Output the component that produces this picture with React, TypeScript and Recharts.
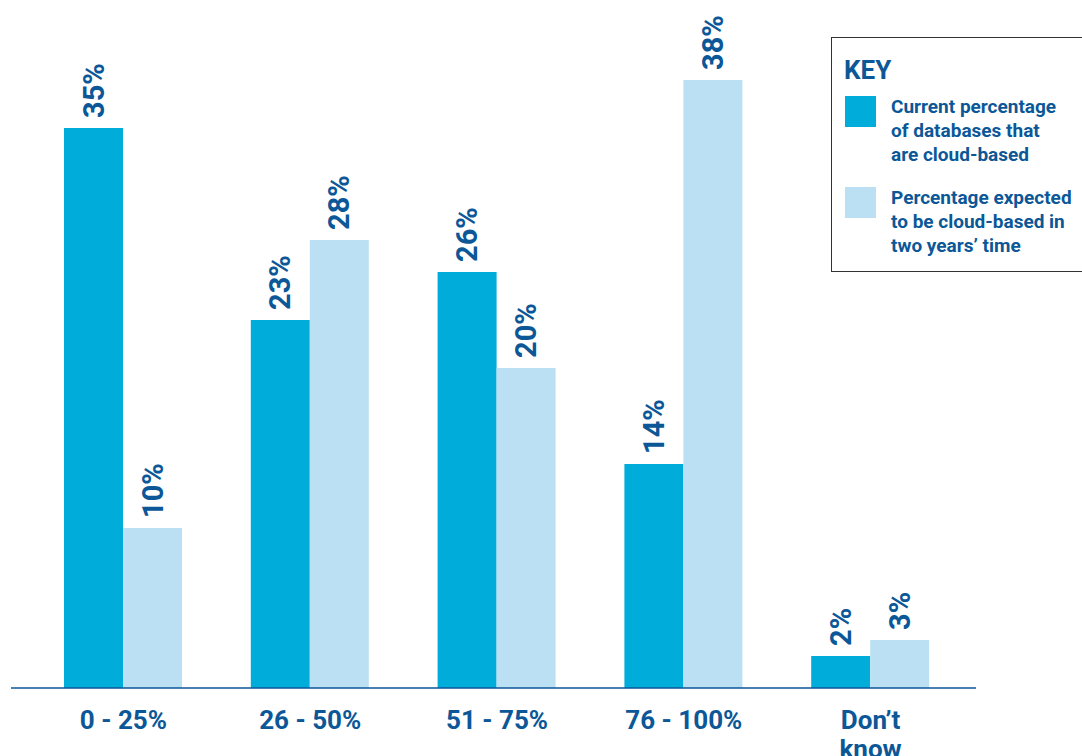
import React from "react";
import { BarChart, Bar, XAxis, YAxis, LabelList } from "recharts";

const categories = ["0 - 25%", "26 - 50%", "51 - 75%", "76 - 100%", "Don\u2019t know"];
const currentValues = [35, 23, 26, 14, 2];
const expectedValues = [10, 28, 20, 38, 3];
const seriesNames = [
  "Current percentage of databases that are cloud-based",
  "Percentage expected to be cloud-based in two years\u2019 time",
];
const legendLines = [
  ["Current percentage", "of databases that", "are cloud-based"],
  ["Percentage expected", "to be cloud-based in", "two years\u2019 time"],
];

const data = categories.map((c, i) => ({
  category: c,
  current: currentValues[i],
  expected: expectedValues[i],
}));

const TEXT = "#0b5797";
const DARK = "#00acd9";
const LIGHT = "#bbe0f3";
const FONT = "Roboto, 'DejaVu Sans', sans-serif";

const ValueLabel = (props: any) => {
  const { x, y, width, value } = props;
  const cx = x + width / 2;
  const cy = y - 10;
  return (
    <text
      x={cx}
      y={cy}
      transform={`rotate(-90 ${cx} ${cy})`}
      textAnchor="start"
      dominantBaseline="central"
      fill={TEXT}
      fontFamily={FONT}
      fontWeight={700}
      fontSize={29}
    >
      {value}%
    </text>
  );
};

const Tick = (props: any) => {
  const { x, y, payload } = props;
  const label: string = payload.value;
  const parts = label === "Don\u2019t know" ? ["Don\u2019t", "know"] : [label];
  return (
    <text
      x={x}
      y={y + 33}
      textAnchor="middle"
      fill={TEXT}
      fontFamily={FONT}
      fontWeight={700}
      fontSize={26}
    >
      {parts.map((p, i) => (
        <tspan key={i} x={x} dy={i === 0 ? 0 : 29}>
          {p}
        </tspan>
      ))}
    </text>
  );
};

const LegendBox = () => (
  <div
    style={{
      position: "absolute",
      left: 831,
      top: 37,
      width: 270,
      height: 235,
      border: "1.5px solid #333",
      boxSizing: "border-box",
      background: "#fff",
      fontFamily: FONT,
      color: TEXT,
      fontWeight: 700,
    }}
  >
    <div style={{ position: "absolute", left: 12, top: 17, fontSize: 26, lineHeight: "30px" }}>KEY</div>
    {[DARK, LIGHT].map((col, i) => (
      <div key={i}>
        <div
          style={{
            position: "absolute",
            left: 13,
            top: 58 + i * 91,
            width: 31,
            height: 31,
            background: col,
          }}
          title={seriesNames[i]}
        />
        <div
          style={{
            position: "absolute",
            left: 59,
            top: 57 + i * 91,
            fontSize: 19,
            lineHeight: "24px",
            whiteSpace: "nowrap",
          }}
        >
          {legendLines[i].map((l, j) => (
            <div key={j}>{l}</div>
          ))}
        </div>
      </div>
    ))}
  </div>
);

export default function App() {
  return (
    <div
      style={{
        position: "absolute",
        left: 0,
        top: 0,
        width: 1082,
        height: 756,
        overflow: "hidden",
        background: "#fff",
      }}
    >
      <BarChart
        width={1082}
        height={756}
        data={data}
        margin={{ top: 48, right: 106, bottom: 0, left: 11 }}
        barGap={0}
        barSize={59}
      >
        <XAxis
          dataKey="category"
          axisLine={{ stroke: "#0b5797", strokeWidth: 1.5 }}
          tickLine={false}
          tick={<Tick />}
          interval={0}
          padding={{ left: 19, right: 12 }}
          height={68}
        />
        <YAxis hide domain={[0, 40]} />
        <Bar dataKey="current" name={seriesNames[0]} fill={DARK} isAnimationActive={false}>
          <LabelList dataKey="current" content={<ValueLabel />} />
        </Bar>
        <Bar dataKey="expected" name={seriesNames[1]} fill={LIGHT} isAnimationActive={false}>
          <LabelList dataKey="expected" content={<ValueLabel />} />
        </Bar>
      </BarChart>
      <LegendBox />
    </div>
  );
}
